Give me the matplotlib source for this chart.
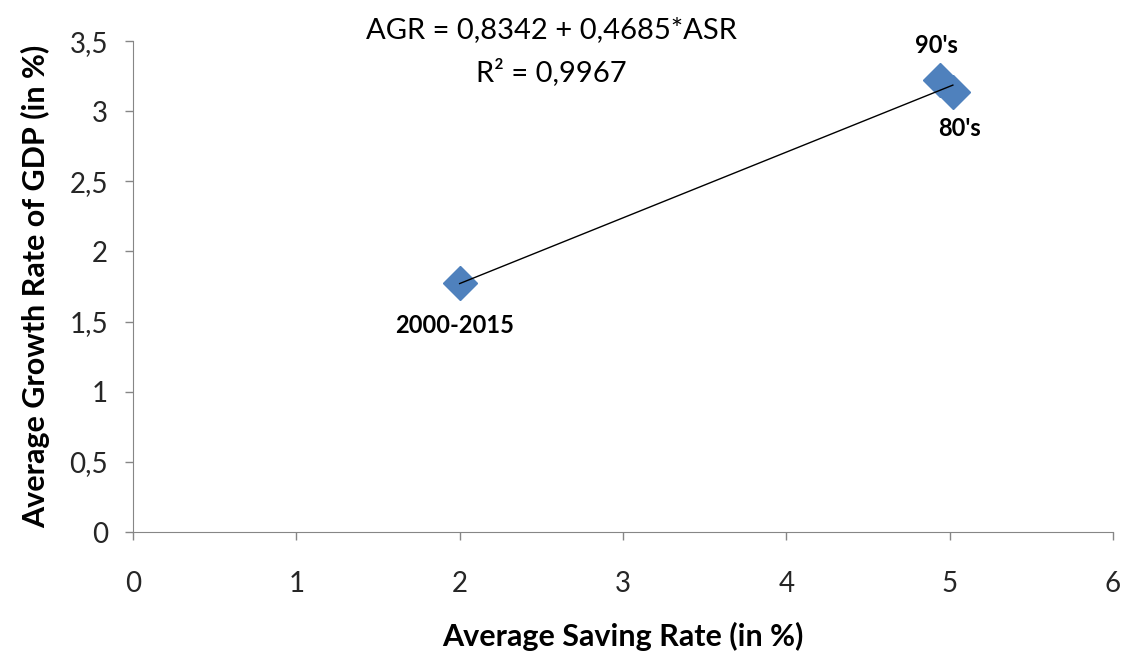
import numpy as np
import matplotlib.pyplot as plt
from matplotlib.ticker import FuncFormatter

# Period averages: saving rate vs. GDP growth (in %)
periods = ["2000-2015", "90's", "80's"]
saving_rate = [2.00, 4.94, 5.02]
growth_rate = [1.775, 3.22, 3.14]

# Linear trend as stated on the chart
intercept = 0.8342
slope = 0.4685
r_squared = 0.9967

plt.rcParams['font.family'] = ['Lato', 'DejaVu Sans']

fig = plt.figure(figsize=(11.31, 6.52), dpi=100)
ax = fig.add_axes([0.1176, 0.184, 0.8664, 0.753])

x_fit = np.array([min(saving_rate), max(saving_rate)])
ax.plot(x_fit, intercept + slope * x_fit, color='black', lw=1.0, zorder=3)
ax.plot(saving_rate, growth_rate, linestyle='none', marker='D', markersize=17,
        color='#4F81BD', markeredgecolor='#4F81BD', zorder=2)

# data labels
label_pos = {"2000-2015": (1.97, 1.47), "90's": (4.92, 3.47), "80's": (5.06, 2.88)}
for name in periods:
    lx, ly = label_pos[name]
    ax.text(lx, ly, name, ha='center', va='center', fontsize=17, fontweight='bold')

ax.text(2.56, 3.58, "AGR = {} + {}*ASR".format(str(intercept).replace('.', ','),
                                                  str(slope).replace('.', ',')),
        ha='center', va='center', fontsize=21, clip_on=False)
ax.text(2.56, 3.28, "R² = {}".format(str(r_squared).replace('.', ',')),
        ha='center', va='center', fontsize=21)

ax.set_xlim(0, 6)
ax.set_ylim(0, 3.5)
ax.set_xticks(range(0, 7))
ax.set_yticks(np.arange(0, 3.51, 0.5))
ax.yaxis.set_major_formatter(FuncFormatter(lambda v, p: ('%g' % v).replace('.', ',')))

for side in ['top', 'right']:
    ax.spines[side].set_visible(False)
for side in ['left', 'bottom']:
    ax.spines[side].set_color('#868686')
ax.tick_params(colors='#868686', length=6, width=1, labelsize=20, labelcolor='#262626')
ax.tick_params(axis='x', pad=22)
ax.tick_params(axis='y', pad=12)

ax.set_xlabel("Average Saving Rate (in %)", fontsize=22, fontweight='bold', labelpad=18)
ax.set_ylabel("Average Growth Rate of GDP (in %)", fontsize=22, fontweight='bold', labelpad=14)

fig.savefig("out.png", dpi=100)
